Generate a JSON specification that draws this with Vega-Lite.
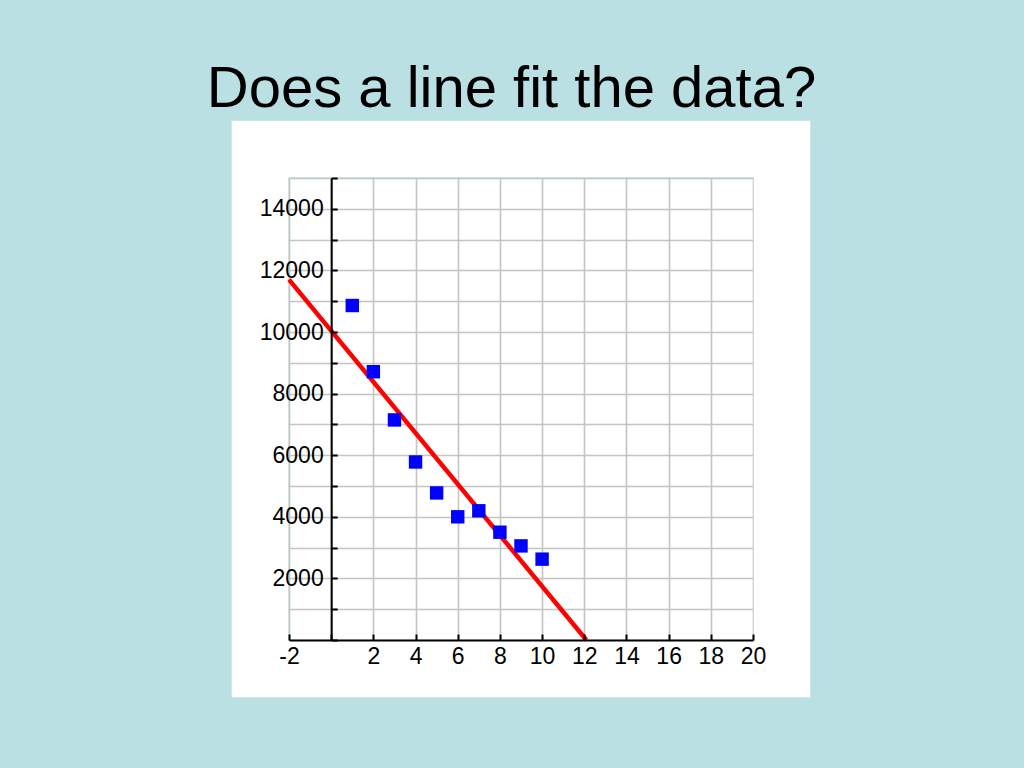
{
  "$schema": "https://vega.github.io/schema/vega-lite/v6.json",
  "width": 464,
  "height": 462,
  "autosize": {"type": "none"},
  "padding": {"left": 289, "top": 178, "right": 271, "bottom": 128},
  "background": "#BBE0E3",
  "view": {"fill": "white", "stroke": null},
  "title": {
    "text": "Does a line fit the data?",
    "font": "Liberation Sans",
    "fontSize": 58,
    "fontWeight": "normal",
    "color": "black",
    "anchor": "middle",
    "frame": "group",
    "dx": -9.5,
    "dy": 54,
    "offset": 10,
    "baseline": "alphabetic"
  },
  "datasets": {
    "points": [
      {"x": 1, "y": 10860},
      {"x": 2, "y": 8710},
      {"x": 3, "y": 7145},
      {"x": 4, "y": 5780},
      {"x": 5, "y": 4775},
      {"x": 6, "y": 4000},
      {"x": 7, "y": 4195},
      {"x": 8, "y": 3500},
      {"x": 9, "y": 3055},
      {"x": 10, "y": 2625}
    ],
    "fit": [
      {"x": -2, "y": 11700},
      {"x": 12.1, "y": 0}
    ]
  },
  "resolve": {"scale": {"x": "independent", "y": "independent"}},
  "layer": [
    {
      "data": {"name": "points"},
      "mark": {"type": "point", "opacity": 0},
      "encoding": {
        "x": {
          "field": "x", "type": "quantitative",
          "scale": {"domain": [-2, 20], "nice": false, "zero": false},
          "axis": {
            "orient": "bottom", "grid": true, "tickCount": 100,
            "values": [-2, 0, 2, 4, 6, 8, 10, 12, 14, 16, 18, 20],
            "domain": false, "ticks": false, "labels": false, "title": null,
            "gridColor": "#C4C4C4", "gridWidth": 1.6, "gridOpacity": 1, "zindex": 0
          }
        },
        "y": {
          "field": "y", "type": "quantitative",
          "scale": {"domain": [0, 15000], "nice": false, "zero": false},
          "axis": {
            "orient": "left", "grid": true, "tickCount": 100,
            "values": [0, 1000, 2000, 3000, 4000, 5000, 6000, 7000, 8000, 9000, 10000, 11000, 12000, 13000, 14000, 15000],
            "domain": false, "ticks": false, "labels": false, "title": null,
            "gridColor": "#C4C4C4", "gridWidth": 1.6, "gridOpacity": 1, "zindex": 0
          }
        }
      }
    },
    {
      "layer": [
        {
          "data": {"values": [{}]},
          "mark": {"type": "rect", "fill": null, "stroke": "white", "strokeWidth": 56.5, "strokeJoin": "miter"},
          "encoding": {
            "x": {
              "datum": -3.375, "type": "quantitative",
              "scale": {"domain": [-2, 20], "nice": false, "zero": false},
              "axis": {
                "orient": "bottom", "grid": false, "tickCount": 100,
                "values": [-2, 0, 2, 4, 6, 8, 10, 12, 14, 16, 18, 20],
                "labelExpr": "datum.value == 0 ? '' : '' + datum.value",
                "domainColor": "black", "domainWidth": 2,
                "tickColor": "black", "tickWidth": 2, "tickSize": -6,
                "labelPadding": 11, "labelFont": "Liberation Sans", "labelFontSize": 23,
                "labelColor": "black", "labelFlush": false, "labelOverlap": false,
                "title": null, "zindex": 1
              }
            },
            "x2": {"datum": 21.375},
            "y": {
              "datum": -941.6, "type": "quantitative",
              "scale": {"domain": [0, 15000], "nice": false, "zero": false},
              "axis": {
                "orient": "left", "grid": false, "offset": -42.18, "tickCount": 100,
                "values": [0, 1000, 2000, 3000, 4000, 5000, 6000, 7000, 8000, 9000, 10000, 11000, 12000, 13000, 14000, 15000],
                "labelExpr": "datum.value > 0 && datum.value < 15000 && datum.value % 2000 == 0 ? '' + datum.value : ''",
                "domainColor": "black", "domainWidth": 2,
                "tickColor": "black", "tickWidth": 2, "tickSize": -6,
                "labelPadding": 14, "labelFont": "Liberation Sans", "labelFontSize": 23,
                "labelColor": "black", "labelOverlap": false,
                "title": null, "zindex": 1
              }
            },
            "y2": {"datum": 15941.6}
          }
        },
        {
          "data": {"name": "fit"},
          "mark": {"type": "line", "color": "#FF0000", "strokeWidth": 4.5},
          "encoding": {
            "x": {"field": "x", "type": "quantitative"},
            "y": {"field": "y", "type": "quantitative"}
          }
        },
        {
          "data": {"name": "points"},
          "mark": {"type": "square", "color": "#0000FF", "filled": true, "opacity": 1, "size": 180},
          "encoding": {
            "x": {"field": "x", "type": "quantitative"},
            "y": {"field": "y", "type": "quantitative"}
          }
        }
      ]
    }
  ]
}
